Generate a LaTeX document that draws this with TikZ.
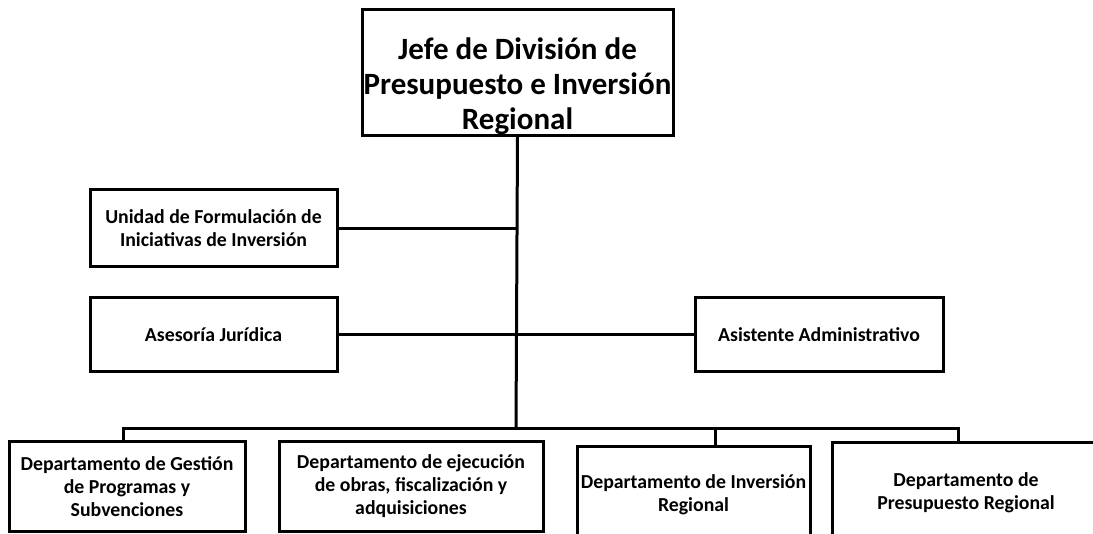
\documentclass[tikz,border=0pt]{standalone}
\usepackage{fontspec}
\setmainfont{Carlito}
\usepackage{tikz}
\usetikzlibrary{calc}

\begin{document}
\begin{tikzpicture}[x=1pt, y=-1pt,
    box/.style={draw=black, line width=3pt, align=center, inner sep=0pt,
                font=\bfseries\fontsize{19.8}{23}\selectfont},
    jefebox/.style={box, font=\bfseries\fontsize{31}{35}\selectfont},
    link/.style={line width=3pt, black},
]
    \useasboundingbox (0,0) rectangle (1093,534);

    % Head of division
    \node[jefebox, minimum width=311pt, minimum height=125pt] (jefe) at (517.5, 72.5)
        {\rule{0pt}{50pt}Jefe de División de\\Presupuesto e Inversión\\Regional};

    % Staff units
    \node[box, minimum width=247pt, minimum height=77pt] (unidad) at (213.5, 228.5)
        {Unidad de Formulación de\\Iniciativas de Inversión};
    \node[box, minimum width=247pt, minimum height=74pt] (asesoria) at (213.5, 335)
        {Asesoría Jurídica};
    \node[box, minimum width=248pt, minimum height=74pt] (asistente) at (819, 335)
        {Asistente Administrativo};

    % Departments
    \node[box, minimum width=236pt, minimum height=89pt] (gestion) at (127, 486.5)
        {Departamento de Gestión\\de Programas y\\Subvenciones};
    \node[box, minimum width=264pt, minimum height=89pt] (ejecucion) at (411, 486.5)
        {Departamento de ejecución\\de obras, fiscalización y\\adquisiciones};
    \node[box, minimum width=233pt, minimum height=95pt] (inversion) at (693.5, 494.5)
        {Departamento de Inversión\\Regional};
    \node[box, minimum width=268pt, minimum height=99pt] (presupuesto) at (966, 492.5)
        {Departamento de\\Presupuesto Regional};

    % Bus
    \coordinate (bus) at (516, 429);

    % Links
    \draw[link] (jefe.south) -- (bus);
    \draw[link] (unidad.east) -- (unidad.east -| jefe.south);
    \draw[link] (asesoria.east) -- (asistente.west);
    \draw[link] ([xshift=-4pt]gestion.north) |- (bus) -| ([xshift=-8pt]presupuesto.north);
    \draw[link] ([xshift=22pt]inversion.north) -- ([xshift=22pt]inversion.north |- bus);
\end{tikzpicture}
\end{document}
